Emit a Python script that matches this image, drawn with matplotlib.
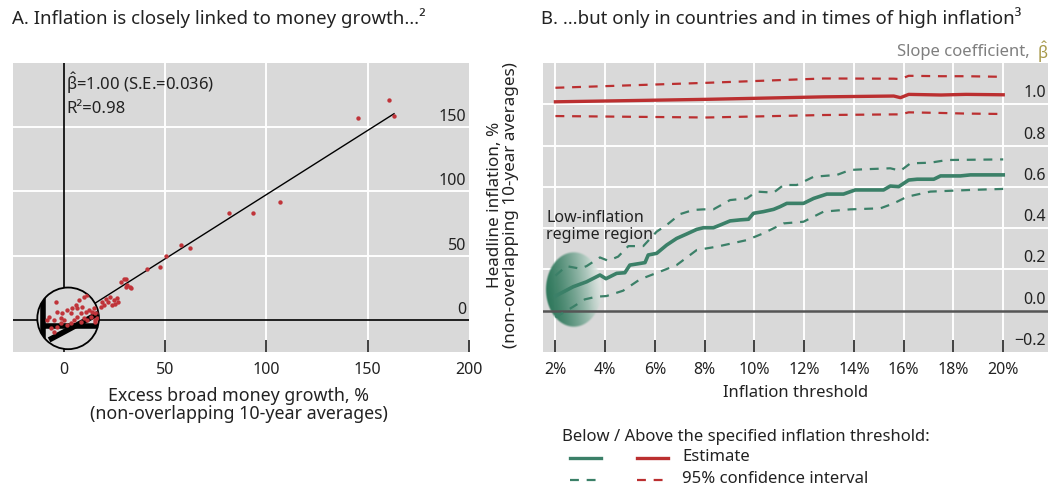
import numpy as np
import matplotlib
matplotlib.use("Agg")
import matplotlib.pyplot as plt
from matplotlib.patches import Ellipse
from matplotlib.lines import Line2D
import matplotlib.transforms as mtransforms

plt.rcParams['font.family'] = ['Noto Sans', 'DejaVu Sans']
plt.rcParams['mathtext.fontset'] = 'custom'
plt.rcParams['mathtext.rm'] = 'Noto Sans'
plt.rcParams['mathtext.it'] = 'Noto Sans'
plt.rcParams['mathtext.bf'] = 'Noto Sans:bold'

# ---------------- Data: Panel A ----------------
money_growth = [145.2, 160.4, 162.9, 106.7, 93.6, 81.8, 58.0, 62.4, 50.3, 47.7, 41.1,
                29.6, 31.0, 28.5, 31.0, 33.3, 31.3, 32.9, 23.1, 24.6, 26.4, 22.1, 27.0,
                23.9, 19.0, 19.7, 18.2, 25.5, 21.0]
headline_inflation = [157.3, 171.1, 158.4, 92.0, 83.5, 83.0, 58.3, 56.2, 49.8, 41.5, 39.7,
                      31.6, 32.0, 29.8, 25.4, 24.6, 27.2, 25.9, 18.1, 15.6, 17.1, 14.2, 14.2,
                      11.7, 14.2, 11.7, 10.3, 12.0, 16.5]
# magnified low-inflation observations (shown inside the circle)
money_growth_low = [-3.9, -3.1, -7.2, -8.0, -4.8, -1.5, -0.6, 1.8, 3.4, 4.3, 5.9, 9.2, 10.0,
                    11.7, 8.4, 10.8, 12.4, 14.1, 14.9, 15.7, 13.3, 11.7, 10.0, 6.7, 5.1, 3.4,
                    1.8, -1.5, -3.1, -6.4, -4.8, 15.7, 16.6, 17.4, 6.7, 0.2, 7.5, 8.4, 15.7]
headline_inflation_low = [14.2, 6.5, 2.6, 0.0, 0.0, 1.3, 5.2, 7.8, 5.2, 9.1, 11.7, 10.4, 18.1,
                          19.4, 5.2, 6.5, 7.8, 6.5, 9.1, 5.2, 2.6, 0.0, 1.3, 2.6, 0.0, -2.6,
                          -3.9, -2.6, -5.2, -6.5, -9.1, -1.3, 1.3, 6.5, 9.1, 0.0, 15.6, -1.3, 0.0]
fit_slope = 1.00
fit_intercept = -2.5
fit_x_range = [15.0, 163.0]
a_xticks = [0, 50, 100, 150, 200]
a_yticks = [0, 50, 100, 150]

# ---------------- Data: Panel B ----------------
thr_est_below = [2, 2.71, 3.25, 3.79, 4.03, 4.46, 4.79, 4.99, 5.4, 5.6, 5.73, 6.07, 6.47, 6.87,
                 7.28, 7.68, 7.95, 8.35, 8.62, 9.02, 9.42, 9.76, 9.96, 10.36, 10.77, 11.03,
                 11.3, 11.97, 12.38, 12.91, 13.58, 14.05, 15.19, 15.46, 15.8, 16.2, 16.54,
                 17.21, 17.48, 18.28, 18.68, 20]
est_below = [0.071, 0.116, 0.14, 0.173, 0.155, 0.181, 0.184, 0.221, 0.229, 0.233, 0.27, 0.278,
             0.318, 0.35, 0.372, 0.394, 0.402, 0.402, 0.415, 0.435, 0.44, 0.443, 0.472, 0.48,
             0.491, 0.504, 0.52, 0.52, 0.544, 0.565, 0.565, 0.585, 0.585, 0.604, 0.601, 0.633,
             0.637, 0.637, 0.653, 0.653, 0.658, 0.658]
thr_up_below = [2, 2.44, 2.98, 3.25, 3.79, 4.12, 4.52, 4.93, 5.53, 6.07, 6.47, 7.01, 7.54, 7.95,
                8.35, 9.02, 9.69, 10.09, 10.77, 11.17, 11.7, 12.38, 13.32, 13.85, 14.39, 15.46,
                15.87, 16.27, 17.07, 17.74, 20]
ci_up_below = [0.17, 0.216, 0.204, 0.216, 0.258, 0.242, 0.262, 0.313, 0.313, 0.383, 0.415,
               0.468, 0.488, 0.491, 0.491, 0.536, 0.544, 0.577, 0.572, 0.609, 0.609, 0.649,
               0.658, 0.682, 0.685, 0.69, 0.678, 0.714, 0.717, 0.73, 0.733]
thr_lo_below = [2, 2.71, 3.18, 3.65, 4.05, 4.72, 5.4, 6.2, 6.87, 7.68, 8.48, 9.69, 10.36, 11.17,
                11.97, 12.78, 13.85, 15.06, 15.6, 16.13, 17.07, 18.68, 20]
ci_lo_below = [-0.032, 0.019, 0.055, 0.068, 0.071, 0.097, 0.152, 0.189, 0.221, 0.294, 0.31,
               0.342, 0.375, 0.423, 0.431, 0.48, 0.491, 0.496, 0.52, 0.552, 0.577, 0.585, 0.59]

thr_above = [2, 8.08, 12.78, 15.6, 15.87, 16.2, 17.5, 18.5, 20]
est_above = [1.012, 1.024, 1.036, 1.040, 1.032, 1.048, 1.045, 1.048, 1.046]
ci_up_above = [1.080, 1.104, 1.125, 1.124, 1.122, 1.138, 1.136, 1.136, 1.133]
ci_lo_above = [0.943, 0.936, 0.948, 0.951, 0.951, 0.961, 0.958, 0.955, 0.953]
b_xticks = [2, 4, 6, 8, 10, 12, 14, 16, 18, 20]
b_xlabels = [f"{v}%" for v in b_xticks]
b_yticks = [-0.2, 0.0, 0.2, 0.4, 0.6, 0.8, 1.0]

# ---------------- Styles ----------------
BG = '#d9d9d9'
GREEN = '#3b8068'
RED = '#bb2f30'
DOT = '#c0343a'
TXT = '#222222'
FS = 12
FT = 11.5
FTITLE = 13.4

fig = plt.figure(figsize=(10.5, 4.88), dpi=100)

# ================= Panel A =================
axA = fig.add_axes([13/1050, 1-352/488, 456/1050, 289/488])
axA.set_facecolor(BG)
for s in axA.spines.values():
    s.set_visible(False)
axA.set_xlim(-25, 200)
axA.set_ylim(-25, 200)
axA.set_xticks(a_xticks)
axA.set_xticklabels([str(v) for v in a_xticks], fontsize=FT, color=TXT)
axA.tick_params(axis='x', direction='in', length=9, width=1.3, color='#333333', pad=7)
axA.set_yticks([])
for v in [50, 100, 150]:
    axA.axvline(v, color='white', lw=1.4, zorder=0.5)
    axA.axhline(v, color='white', lw=1.4, zorder=0.5)
axA.axhline(0, color='black', lw=1.2, zorder=1)
axA.axvline(0, color='black', lw=1.2, zorder=1)

tr_lab = mtransforms.blended_transform_factory(axA.transAxes, axA.transData)
off = mtransforms.ScaledTranslation(0, 10/100, fig.dpi_scale_trans)
for v in a_yticks:
    axA.text(0.994, v, str(v), transform=tr_lab + off, ha='right', va='center',
             fontsize=FT, color=TXT)

fx = np.array(fit_x_range)
axA.plot(fx, fit_intercept + fit_slope*fx, color='black', lw=1.0, zorder=2)
axA.scatter(money_growth, headline_inflation, s=10, color=DOT, zorder=3, linewidths=0)

circ = Ellipse((2.2, 1.2), 2*15.2, 2*24.0, facecolor=BG, edgecolor='black', lw=1.3, zorder=4)
axA.add_patch(circ)
clip = Ellipse((2.2, 1.2), 2*15.2, 2*24.0, transform=axA.transData)
for (xs, ys) in [([-10.3, -10.3], [-30, 30]), ([-10.3, 20], [-4.7, -4.7]),
                 ([-7.2, 17.4], [-15.6, 5.2])]:
    ln, = axA.plot(xs, ys, color='black', lw=4, zorder=5, solid_capstyle='butt')
    ln.set_clip_path(clip)
sc = axA.scatter(money_growth_low, headline_inflation_low, s=10, color=DOT, zorder=6, linewidths=0)
sc.set_clip_path(clip)

axA.text(0.116, 0.931, r'$\hat{\mathrm{\beta}}$=1.00 (S.E.=0.036)', transform=axA.transAxes,
         ha='left', va='center', fontsize=FS, color=TXT)
axA.text(0.116, 0.841, 'R²=0.98', transform=axA.transAxes, ha='left', va='center',
         fontsize=FS, color=TXT)

fig.text(239/1050, 1-405/488, 'Excess broad money growth, %\n(non-overlapping 10-year averages)',
         ha='center', va='center', fontsize=12.8, color=TXT, linespacing=1.05)
fig.text(503/1050, 1-205/488, 'Headline inflation, %\n(non-overlapping 10-year averages)',
         ha='center', va='center', rotation=90, fontsize=12.3, color=TXT, linespacing=1.05,
         multialignment='center')
fig.text(12/1050, 1-18/488, 'A. Inflation is closely linked to money growth…²',
         ha='left', va='center', fontsize=FTITLE, color=TXT)

# ================= Panel B =================
axB = fig.add_axes([543/1050, 1-352/488, 505/1050, 289/488])
axB.set_facecolor(BG)
for s in axB.spines.values():
    s.set_visible(False)
axB.set_xlim(1.5, 21.8)
axB.set_ylim(-0.2, 1.2)
axB.set_xticks(b_xticks)
axB.set_xticklabels(b_xlabels, fontsize=FT, color=TXT)
axB.tick_params(axis='x', direction='in', length=9, width=1.3, color='#333333', pad=7)
axB.set_yticks([])
for v in b_xticks:
    axB.axvline(v, color='white', lw=1.4, zorder=0.5)
for v in [0.2, 0.4, 0.6, 0.8, 1.0]:
    axB.axhline(v, color='white', lw=1.4, zorder=0.5)

trB = mtransforms.blended_transform_factory(axB.transAxes, axB.transData)
offB = mtransforms.ScaledTranslation(0, 11/100, fig.dpi_scale_trans)
for v in b_yticks:
    lab = f"{v:.1f}".replace('-', '\u2212')
    axB.text(0.996, v, lab, transform=trB + offB, ha='right', va='center', fontsize=FT, color=TXT)

# low-inflation regime shading (radial gradient ellipse)
ecx, ecy, ew, eh = 2.72, 0.10, 2.3, 0.37
nx, ny = 200, 200
u = np.linspace(-1, 1, nx)
v = np.linspace(-1, 1, ny)
U, V = np.meshgrid(u, v)
R = np.sqrt(U**2 + V**2)
tt = np.clip((U + 1) / 2 + 0.10 * V, 0, 1)
g = np.array(matplotlib.colors.to_rgb('#2a7558'))
w = np.array([0.91, 0.93, 0.92])
mix = tt**1.4
rgba = np.zeros((ny, nx, 4))
for k in range(3):
    rgba[..., k] = g[k]*(1-mix) + w[k]*mix
edge = np.clip((1.0 - R) / 0.06, 0, 1)
rgba[..., 3] = edge * (0.97 - 0.40*np.clip((U-0.5)/0.5, 0, 1))
axB.imshow(rgba, extent=[ecx-ew/2, ecx+ew/2, ecy-eh/2, ecy+eh/2], origin='lower',
           aspect='auto', zorder=1.5, interpolation='bilinear')
axB.set_xlim(1.5, 21.8)
axB.set_ylim(-0.2, 1.2)

axB.axhline(0, color='#555555', lw=1.8, zorder=2)

dash = (4, 3.5)
axB.plot(thr_above, est_above, color=RED, lw=2.4, zorder=3)
axB.plot(thr_above, ci_up_above, color=RED, lw=1.6, dashes=dash, zorder=3)
axB.plot(thr_above, ci_lo_above, color=RED, lw=1.6, dashes=dash, zorder=3)
axB.plot(thr_est_below, est_below, color=GREEN, lw=2.6, zorder=3)
axB.plot(thr_up_below, ci_up_below, color=GREEN, lw=1.6, dashes=dash, zorder=3)
axB.plot(thr_lo_below, ci_lo_below, color=GREEN, lw=1.6, dashes=dash, zorder=3)

axB.text(0.006, 0.434, 'Low-inflation\nregime region', transform=axB.transAxes, ha='left',
         va='center', fontsize=11.5, color=TXT, linespacing=1.15, zorder=4)

fig.text(0.998, 1-52/488, r'Slope coefficient, ', ha='right', va='center', fontsize=FS,
         color='#7f7f7f')
t2 = fig.text(0.998, 1-52/488, r'$\hat{\mathrm{\beta}}$', ha='right', va='center',
              fontsize=FS, color='#a89a4c')
fig.canvas.draw()
bb = t2.get_window_extent()
fig.texts[-2].set_position((bb.x0/1050 - 0.002, 1-52/488))

fig.text(796/1050, 1-393/488, 'Inflation threshold', ha='center', va='center', fontsize=FS,
         color=TXT)
fig.text(541/1050, 1-18/488, 'B. …but only in countries and in times of high inflation³',
         ha='left', va='center', fontsize=FTITLE, color=TXT)

# legend
fig.text(562/1050, 1-437/488, 'Below / Above the specified inflation threshold:', ha='left',
         va='center', fontsize=FS, color=TXT)
for (x0, x1, y, c, st) in [(570, 601, 458, GREEN, 'solid'), (637, 668, 458, RED, 'solid'),
                           (570, 601, 480, GREEN, 'dash'), (637, 668, 480, RED, 'dash')]:
    kw = dict(lw=2.4) if st == 'solid' else dict(lw=1.6, dashes=dash)
    fig.add_artist(Line2D([x0/1050, x1/1050], [1-y/488, 1-y/488], color=c, **kw))
fig.text(682/1050, 1-457/488, 'Estimate', ha='left', va='center', fontsize=FS, color=TXT)
fig.text(682/1050, 1-479/488, '95% confidence interval', ha='left', va='center', fontsize=FS,
         color=TXT)

fig.savefig('out.png', dpi=100)
